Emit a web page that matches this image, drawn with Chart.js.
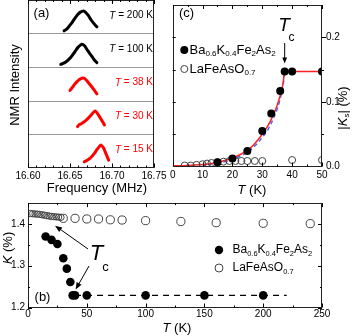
<!DOCTYPE html>
<html><head><meta charset="utf-8">
<script src="https://cdn.jsdelivr.net/npm/chart.js@4.4.0/dist/chart.umd.min.js"></script>
<style>
html,body{margin:0;padding:0;background:#fff;}
body{width:355px;height:336px;position:relative;overflow:hidden;}
canvas{position:absolute;display:block;}
</style></head><body>
<canvas id="ca" width="175" height="200" style="left:0;top:0"></canvas>
<canvas id="cc" width="195" height="200" style="left:160px;top:0"></canvas>
<canvas id="cb" width="355" height="138" style="left:0;top:198px"></canvas>
<script>
// ---------- Panel (a): NMR spectra ----------
const tempLabels = ['200', '100', '38', '30', '15'];
const tempColors = ['#000000', '#000000', '#ff0000', '#ff0000', '#ff0000'];
const f200 = [16.643, 16.646, 16.650, 16.653, 16.656, 16.659, 16.662, 16.666, 16.669, 16.672, 16.675, 16.678, 16.682];
const i200 = [0.08, 0.13, 0.25, 0.35, 0.46, 0.56, 0.63, 0.67, 0.62, 0.53, 0.41, 0.31, 0.20];
const f100 = [16.639, 16.642, 16.645, 16.648, 16.651, 16.654, 16.657, 16.660, 16.664, 16.667, 16.670, 16.673, 16.676, 16.679, 16.682];
const i100 = [0.08, 0.11, 0.15, 0.21, 0.29, 0.39, 0.50, 0.60, 0.68, 0.64, 0.53, 0.42, 0.32, 0.21, 0.13];
const f38 = [16.650, 16.653, 16.656, 16.659, 16.662, 16.666, 16.669, 16.672, 16.675, 16.678, 16.682];
const i38 = [0.30, 0.40, 0.50, 0.58, 0.64, 0.67, 0.62, 0.53, 0.44, 0.34, 0.20];
const f30 = [16.659, 16.661, 16.663, 16.666, 16.669, 16.672, 16.675, 16.678, 16.680, 16.683, 16.686, 16.689, 16.691];
const i30 = [0.22, 0.28, 0.30, 0.35, 0.41, 0.48, 0.56, 0.65, 0.69, 0.60, 0.48, 0.36, 0.27];
const f15 = [16.667, 16.670, 16.673, 16.676, 16.679, 16.682, 16.685, 16.687, 16.690, 16.692, 16.694, 16.696];
const i15 = [0.17, 0.21, 0.26, 0.33, 0.42, 0.53, 0.63, 0.67, 0.58, 0.46, 0.34, 0.22];
const freqTicks = [16.60, 16.65, 16.70, 16.75];

// ---------- Panel (b): Knight shift K vs T ----------
const tBa = [15, 20, 25, 30, 33, 36, 38, 40, 50, 100, 150, 200];
const kBa = [1.370, 1.362, 1.352, 1.318, 1.293, 1.261, 1.229, 1.229, 1.229, 1.229, 1.229, 1.229];
const tLa = [2, 4, 6, 8, 10, 12, 14, 16, 18, 20, 22, 24, 26, 28, 30, 40, 50, 60, 70, 80, 100, 130, 160, 200, 240];
const kLa = [1.425, 1.4245, 1.424, 1.4235, 1.423, 1.422, 1.421, 1.420, 1.419, 1.418, 1.4175, 1.417, 1.4165, 1.416, 1.4135, 1.4135, 1.412, 1.412, 1.410, 1.4095, 1.408, 1.406, 1.403, 1.4016, 1.4008];
const tDashB = [40, 220];
const kDashB = [1.229, 1.229];
const tTicksB = [0, 50, 100, 150, 200, 250];
const kTicksB = [1.2, 1.3, 1.4];

// ---------- Panel (c): |Ks| vs T ----------
const tBaC = [15, 20, 25, 30, 33, 36, 37.5, 40, 50];
const ksBaC = [0.0065, 0.0125, 0.024, 0.055, 0.082, 0.117, 0.147, 0.147, 0.147];
const tLaC = [4, 6, 8, 10, 11.5, 13, 15, 17, 19, 21, 23, 25, 27.5, 30, 40, 50];
const ksLaC = [0.0015, 0.0015, 0.0025, 0.0035, 0.0045, 0.0055, 0.0065, 0.0075, 0.0085, 0.0085, 0.0085, 0.0085, 0.0085, 0.0085, 0.010, 0.010];
const tRed = [0, 5, 10, 12, 15, 18, 20, 22, 25, 27, 30, 32, 33, 34, 35, 36, 37, 37.5, 50];
const ksRed = [0.001, 0.0015, 0.003, 0.004, 0.0065, 0.010, 0.013, 0.017, 0.025, 0.033, 0.050, 0.064, 0.073, 0.083, 0.095, 0.110, 0.130, 0.147, 0.147];
const tBlue = [10, 15, 20, 25, 28, 30, 32, 34, 35, 36, 37, 37.5];
const ksBlue = [0.0025, 0.005, 0.011, 0.022, 0.034, 0.045, 0.058, 0.077, 0.089, 0.105, 0.127, 0.147];
const tTicksC = [0, 10, 20, 30, 40, 50];
const ksTicksC = [0.0, 0.1, 0.2];

// ---------- helpers ----------
const FF = '"Liberation Sans", Arial, sans-serif';
Chart.defaults.font.family = FF;
Chart.defaults.color = '#000';
const noGrid = {display: false, drawTicks: false, tickLength: 0};

function pts(xs, ys, off) { return xs.map((x, i) => ({x: x, y: ys[i] + (off || 0)})); }
function fixBox(w, h) {
  return s => {
    if (w !== null) s.width = w;
    if (h !== null) s.height = h;
    s.paddingTop = 0; s.paddingBottom = 0; s.paddingLeft = 0; s.paddingRight = 0;
  };
}
function setTicks(vals) { return s => { s.ticks = vals.map(v => ({value: v})); }; }
function range(a, b, step) { const out = []; const n = Math.round((b - a) / step); for (let i = 0; i <= n; i++) out.push(a + i * step); return out; }

function fontStr(size, style) { return (style || 'normal') + ' ' + size + 'px ' + FF; }
// parts: [text, size, style, dy]
function rich(ctx, x, y, parts, align, color) {
  ctx.save();
  ctx.fillStyle = color || '#000';
  ctx.textBaseline = 'middle';
  ctx.textAlign = 'left';
  let w = 0;
  const ws = parts.map(p => { ctx.font = fontStr(p[1], p[2]); const m = ctx.measureText(p[0]).width; w += m; return m; });
  let cx = align === 'right' ? x - w : (align === 'center' ? x - w / 2 : x);
  parts.forEach((p, i) => { ctx.font = fontStr(p[1], p[2]); ctx.fillText(p[0], cx, y + (p[3] || 0)); cx += ws[i]; });
  ctx.restore();
}
function richRot(ctx, x, y, parts, color) {
  ctx.save(); ctx.translate(x, y); ctx.rotate(-Math.PI / 2);
  rich(ctx, 0, 0, parts, 'center', color);
  ctx.restore();
}
function tickMarks(chart, id, vals, len, sides) {
  const s = chart.scales[id], ca = chart.chartArea, ctx = chart.ctx;
  ctx.save(); ctx.strokeStyle = '#000'; ctx.lineWidth = 1;
  ctx.beginPath();
  vals.forEach(v => {
    const p = Math.round(s.getPixelForValue(v)) + 0.5;
    sides.forEach(sd => {
      if (sd === 'b') { ctx.moveTo(p, ca.bottom); ctx.lineTo(p, ca.bottom - len); }
      if (sd === 't') { ctx.moveTo(p, ca.top); ctx.lineTo(p, ca.top + len); }
      if (sd === 'l') { ctx.moveTo(ca.left, p); ctx.lineTo(ca.left + len, p); }
      if (sd === 'r') { ctx.moveTo(ca.right, p); ctx.lineTo(ca.right - len, p); }
      if (sd === 'ro') { ctx.moveTo(ca.right, p); ctx.lineTo(ca.right + len, p); }
    });
  });
  ctx.stroke(); ctx.restore();
}
function frame(chart, color) {
  const ca = chart.chartArea, ctx = chart.ctx;
  ctx.save(); ctx.strokeStyle = color || '#000'; ctx.lineWidth = 1;
  ctx.strokeRect(Math.round(ca.left) + 0.5, Math.round(ca.top) + 0.5, Math.round(ca.right) - Math.round(ca.left) - 1, Math.round(ca.bottom) - Math.round(ca.top) - 1);
  ctx.restore();
}
function arrow(ctx, x1, y1, x2, y2, head) {
  const a = Math.atan2(y2 - y1, x2 - x1);
  ctx.save(); ctx.strokeStyle = '#000'; ctx.fillStyle = '#000'; ctx.lineWidth = 1;
  ctx.beginPath(); ctx.moveTo(x1, y1); ctx.lineTo(x2 - Math.cos(a) * head * 0.8, y2 - Math.sin(a) * head * 0.8); ctx.stroke();
  ctx.beginPath(); ctx.moveTo(x2, y2);
  ctx.lineTo(x2 - head * Math.cos(a) + head * 0.4 * Math.sin(a), y2 - head * Math.sin(a) - head * 0.4 * Math.cos(a));
  ctx.lineTo(x2 - head * Math.cos(a) - head * 0.4 * Math.sin(a), y2 - head * Math.sin(a) + head * 0.4 * Math.cos(a));
  ctx.closePath(); ctx.fill(); ctx.restore();
}
function marker(ctx, x, y, r, filled) {
  ctx.save(); ctx.beginPath(); ctx.arc(x, y, r, 0, Math.PI * 2);
  if (filled) { ctx.fillStyle = '#000'; ctx.fill(); } else { ctx.strokeStyle = '#444'; ctx.lineWidth = 1; ctx.stroke(); }
  ctx.restore();
}
const baParts = s => [['Ba', s], ['0.6', s * 0.62, '', 4], ['K', s], ['0.4', s * 0.62, '', 4], ['Fe', s], ['2', s * 0.62, '', 4], ['As', s], ['2', s * 0.62, '', 4]];
const laParts = s => [['LaFeAsO', s], ['0.7', s * 0.62, '', 4]];

// ---------- Chart (a) ----------
const specF = [f200, f100, f38, f30, f15];
const specI = [i200, i100, i38, i30, i15];
new Chart(document.getElementById('ca'), {
  type: 'scatter',
  data: {
    datasets: specF.map((f, k) => ({
      data: pts(f, specI[k], 4 - k), showLine: true, pointRadius: 0, borderWidth: 3,
      borderColor: tempColors[k], tension: 0.3, borderCapStyle: 'round', borderJoinStyle: 'round'
    }))
  },
  options: {
    responsive: false, animation: false, events: [],
    layout: {padding: {left: 0, right: 21, top: 0, bottom: 0}},
    plugins: {legend: {display: false}, tooltip: {enabled: false}},
    scales: {
      x: {type: 'linear', min: 16.60, max: 16.75, grid: noGrid, border: {display: false},
          afterBuildTicks: setTicks(freqTicks),
          ticks: {font: {size: 10}, padding: 2.5, color: '#000', autoSkip: false, maxRotation: 0, callback: v => v.toFixed(2)},
          afterFit: fixBox(null, 32.5)},
      y: {min: 0, max: 5, grid: noGrid, border: {display: false}, ticks: {display: false},
          afterFit: fixBox(28, null)}
    }
  },
  plugins: [{
    id: 'decoA',
    afterDraw(chart) {
      const ctx = chart.ctx, ca = chart.chartArea, y = chart.scales.y;
      ctx.save(); ctx.strokeStyle = '#999'; ctx.lineWidth = 1; ctx.beginPath();
      [1, 2, 3, 4].forEach(v => { const p = Math.round(y.getPixelForValue(v)) + 0.5; ctx.moveTo(ca.left, p); ctx.lineTo(ca.right, p); });
      ctx.stroke(); ctx.restore();
      frame(chart, '#222');
      tickMarks(chart, 'x', freqTicks, 4, ['b', 't']);
      tickMarks(chart, 'x', range(16.60, 16.75, 0.01), 2, ['b', 't']);
      tempLabels.forEach((t, k) => {
        rich(ctx, 153, y.getPixelForValue(4 - k + 0.53), [['T', 10, 'italic'], [' = ' + t + ' K', 10]], 'right', tempColors[k]);
      });
      rich(ctx, 41.5, 13.5, [['(a)', 13]], 'center');
      richRot(ctx, 15.5, 85, [['NMR Intensity', 13]]);
      rich(ctx, 97, 188, [['Frequency (MHz)', 13]], 'center');
    }
  }]
});

// ---------- Chart (c) ----------
new Chart(document.getElementById('cc'), {
  type: 'scatter',
  data: {
    datasets: [
      {data: pts(tBaC, ksBaC), pointRadius: 4, pointBackgroundColor: '#000', pointBorderColor: '#000', pointBorderWidth: 0, showLine: false},
      {data: pts(tLaC, ksLaC), pointRadius: 3.5, pointBackgroundColor: 'rgba(0,0,0,0)', pointBorderColor: '#444', pointBorderWidth: 1, showLine: false},
      {data: pts(tRed, ksRed), showLine: true, pointRadius: 0, borderColor: '#ff2020', borderWidth: 1.5, tension: 0.35, cubicInterpolationMode: 'monotone'},
      {data: pts(tBlue, ksBlue), showLine: true, pointRadius: 0, borderColor: '#4466ff', borderWidth: 1.5, borderDash: [4, 3], cubicInterpolationMode: 'monotone'}
    ]
  },
  options: {
    responsive: false, animation: false, events: [],
    layout: {padding: {left: 12.7, right: 0, top: 0, bottom: 0}},
    plugins: {legend: {display: false}, tooltip: {enabled: false}},
    scales: {
      x: {type: 'linear', min: 0, max: 50, grid: noGrid, border: {display: false},
          afterBuildTicks: setTicks(tTicksC),
          ticks: {font: {size: 10}, padding: 2.5, color: '#000', autoSkip: false, maxRotation: 0},
          afterFit: fixBox(null, 33.5)},
      y: {position: 'right', min: 0, max: 0.25, grid: noGrid, border: {display: false},
          afterBuildTicks: setTicks(ksTicksC),
          ticks: {font: {size: 10}, padding: 4, color: '#000', callback: v => v.toFixed(1)},
          afterFit: fixBox(33, null)}
    }
  },
  plugins: [{
    id: 'decoC',
    afterDraw(chart) {
      const ctx = chart.ctx, xs = chart.scales.x, ys = chart.scales.y;
      frame(chart, '#222');
      tickMarks(chart, 'x', tTicksC, 4, ['b', 't']);
      tickMarks(chart, 'x', [5, 15, 25, 35, 45], 2, ['b', 't']);
      tickMarks(chart, 'y', [0.05, 0.1, 0.15, 0.2], 3, ['l']);
      tickMarks(chart, 'y', [0.1, 0.2], 4, ['ro']);
      tickMarks(chart, 'y', [0.05, 0.15], 2, ['ro']);
      const ox = 160;
      rich(ctx, 186.5 - ox, 13.5, [['(c)', 13]], 'center');
      marker(ctx, 184.3 - ox, 50, 4, true);
      rich(ctx, 189.5 - ox, 50, baParts(13), 'left');
      marker(ctx, 184.3 - ox, 69, 3.5, false);
      rich(ctx, 189.5 - ox, 69, laParts(13), 'left');
      const ax = xs.getPixelForValue(37.5);
      arrow(ctx, ax, 43, ax, 63.5, 6);
      rich(ctx, 284 - ox, 26, [['T', 19, 'italic']], 'center');
      rich(ctx, 291.5 - ox, 37.5, [['c', 12]], 'center');
      rich(ctx, 252 - ox, 190, [['T', 13, 'italic'], [' (K)', 13]], 'center');
      richRot(ctx, 343 - ox, 108, [['|', 13], ['K', 13, 'italic'], ['s', 8, '', 4], ['| (%)', 13]]);
    }
  }]
});

// ---------- Chart (b) ----------
new Chart(document.getElementById('cb'), {
  type: 'scatter',
  data: {
    datasets: [
      {data: pts(tBa, kBa), pointRadius: 4.3, pointBackgroundColor: '#000', pointBorderColor: '#000', pointBorderWidth: 0, showLine: false},
      {data: pts(tLa, kLa), pointRadius: c => (c.raw && c.raw.x < 30 ? 3.2 : 4.1), pointBackgroundColor: 'rgba(0,0,0,0)', pointBorderColor: '#444', pointBorderWidth: 1, showLine: false},
      {data: pts(tDashB, kDashB), showLine: true, pointRadius: 0, borderColor: '#000', borderWidth: 1.1, borderDash: [6, 5]}
    ]
  },
  options: {
    responsive: false, animation: false, events: [],
    layout: {padding: {left: 0, right: 33, top: 4.5, bottom: 0}},
    plugins: {legend: {display: false}, tooltip: {enabled: false}},
    scales: {
      x: {type: 'linear', min: 0, max: 250, grid: noGrid, border: {display: false},
          afterBuildTicks: setTicks(tTicksB),
          ticks: {font: {size: 10}, padding: 0.5, color: '#000', autoSkip: false, maxRotation: 0},
          afterFit: fixBox(null, 28.5)},
      y: {min: 1.2, max: 1.45, grid: noGrid, border: {display: false},
          afterBuildTicks: setTicks(kTicksB),
          ticks: {font: {size: 10}, padding: 3, color: '#000', callback: v => v.toFixed(1)},
          afterFit: fixBox(28, null)}
    }
  },
  plugins: [{
    id: 'decoB',
    afterDraw(chart) {
      const ctx = chart.ctx, xs = chart.scales.x, ys = chart.scales.y;
      frame(chart, '#222');
      tickMarks(chart, 'x', tTicksB, 4, ['b', 't']);
      tickMarks(chart, 'x', [25, 75, 125, 175, 225], 2, ['b', 't']);
      tickMarks(chart, 'y', kTicksB, 4, ['l', 'r']);
      tickMarks(chart, 'y', [1.25, 1.35], 2, ['l', 'r']);
      const oy = 198;
      rich(ctx, 42.5, 297.3 - oy, [['(b)', 13]], 'center');
      marker(ctx, 219, 250 - oy, 4.2, true);
      rich(ctx, 232.5, 250 - oy, baParts(12), 'left');
      marker(ctx, 219, 268 - oy, 4, false);
      rich(ctx, 232.5, 268 - oy, laParts(12), 'left');
      arrow(ctx, 88, 249 - oy, xs.getPixelForValue(23), ys.getPixelForValue(1.396), 7);
      arrow(ctx, 89, 266 - oy, xs.getPixelForValue(40.5), ys.getPixelForValue(1.243), 7);
      rich(ctx, 96.5, 254 - oy, [['T', 22, 'italic']], 'center');
      rich(ctx, 105.5, 267 - oy, [['c', 13]], 'center');
      rich(ctx, 177, 328 - oy, [['T', 13, 'italic'], [' (K)', 13]], 'center');
      richRot(ctx, 8, 248 - oy, [['K', 13, 'italic'], [' (%)', 13]]);
    }
  }]
});
</script>
</body></html>
